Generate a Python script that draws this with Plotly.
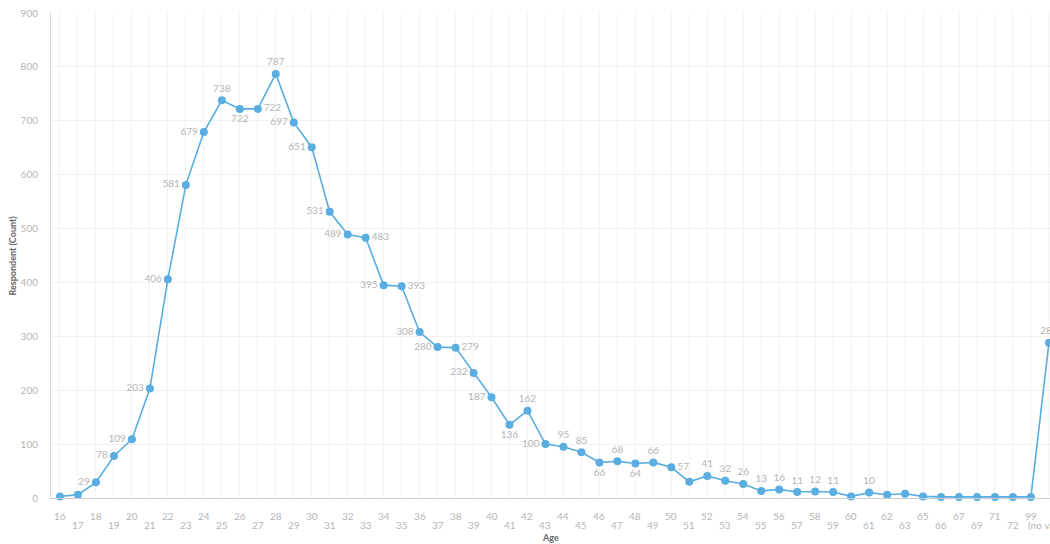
import plotly.graph_objects as go

ages = [str(a) for a in range(16, 64)] + ["65", "66", "67", "69", "71", "72", "99", "(no value)"]
counts = [3, 6, 29, 78, 109, 203, 406, 581, 679, 738, 722, 722, 787, 697, 651, 531,
          489, 483, 395, 393, 308, 280, 279, 232, 187, 136, 162, 100, 95, 85, 66, 68,
          64, 66, 57, 30, 41, 32, 26, 13, 16, 11, 12, 11, 3, 10, 6, 8,
          3, 2, 2, 2, 2, 2, 2, 288]
label_pos = ["", "", "middle left", "middle left", "middle left", "middle left", "middle left", "middle left",
             "middle left", "top center", "bottom center", "middle right", "top center", "middle left", "middle left", "middle left",
             "middle left", "middle right", "middle left", "middle right", "middle left", "middle left", "middle right", "middle left",
             "middle left", "bottom center", "top center", "middle left", "top center", "top center", "bottom center", "top center",
             "bottom center", "top center", "middle right", "", "top center", "top center", "top center", "top center",
             "top center", "top center", "top center", "top center", "", "top center", "", "",
             "", "", "", "", "", "", "", "top center"]
y_ticks = [0, 100, 200, 300, 400, 500, 600, 700, 800, 900]

texts = [str(v) if p else "" for v, p in zip(counts, label_pos)]
positions = [p if p else "top center" for p in label_pos]
idx = list(range(len(ages)))

fig = go.Figure()
fig.add_trace(go.Scatter(
    x=idx, y=counts, mode="lines+markers+text",
    line=dict(color="#5aade0", width=1.6),
    marker=dict(color="#5aade0", size=8),
    text=texts, textposition=positions,
    textfont=dict(family="Lato", size=10, color="#b5b5b5"),
    cliponaxis=False, hoverinfo="skip", showlegend=False,
))

annotations = []
for i, a in enumerate(ages):
    annotations.append(dict(
        x=i, y=0, xref="x", yref="paper", text=a, showarrow=False,
        xanchor="center", yanchor="middle", yshift=-18 if i % 2 == 0 else -27,
        font=dict(family="Lato", size=10, color="#b5b5b5"),
    ))
annotations.append(dict(x=0.5, y=0, xref="paper", yref="paper", text="<b>Age</b>", showarrow=False,
                        xanchor="center", yanchor="middle", yshift=-39,
                        font=dict(family="Lato", size=9, color="#666")))
annotations.append(dict(x=0, y=0.5, xref="paper", yref="paper", text="<b>Respondent (Count)</b>", showarrow=False,
                        xanchor="center", yanchor="middle", xshift=-39, textangle=-90,
                        font=dict(family="Lato", size=9, color="#666")))

fig.update_layout(
    width=1050, height=544,
    margin=dict(l=51, r=0, t=13, b=46),
    paper_bgcolor="white", plot_bgcolor="white",
    font=dict(family="Lato"),
    annotations=annotations,
    xaxis=dict(
        range=[-0.5, 55.06], tickmode="linear", tick0=0, dtick=1,
        showticklabels=False, showgrid=True, gridcolor="#f2f2f2", gridwidth=1,
        showline=True, linecolor="#cccccc", linewidth=1, zeroline=False,
    ),
    yaxis=dict(
        range=[0, 900], tickmode="array", tickvals=y_ticks,
        ticktext=[str(v) for v in y_ticks], ticklabelstandoff=10,
        tickfont=dict(family="Lato", size=10, color="#b5b5b5"),
        showgrid=True, gridcolor="#f2f2f2", gridwidth=1,
        showline=True, linecolor="#d8d8d8", linewidth=1, zeroline=False,
    ),
)

fig.write_html("out.html", config={"displayModeBar": False},
               post_script="document.body.style.margin='0';document.body.style.overflow='hidden';")
